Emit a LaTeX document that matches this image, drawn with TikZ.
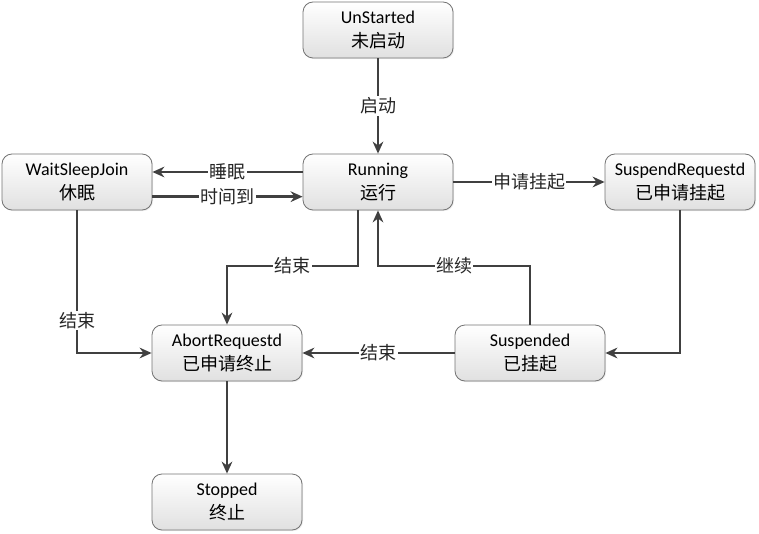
\documentclass[tikz,border=0pt]{standalone}
\usepackage{fontspec}
\setmainfont{Carlito}
\newfontfamily\cjk{Noto Sans CJK SC}
\usetikzlibrary{arrows.meta,shadows}

\tikzset{
  state/.style={draw=black!55, line width=0.6pt, rounded corners=7.5pt,
    top color=white, bottom color=black!12,
    drop shadow={shadow xshift=0.8pt, shadow yshift=-0.8pt, fill=black!15},
    minimum width=112.5pt, minimum height=42pt, align=center,
    font=\fontsize{13.5}{17.5}\selectfont, inner sep=0pt},
  arr/.style={draw=black!75, line width=2.2pt, -{Stealth[length=9pt,width=8pt]}},
  lbl/.style={fill=white, inner sep=1pt, text=black!85,
    font=\fontsize{13.5}{16}\selectfont\cjk},
}

\begin{document}
\begin{tikzpicture}[x=0.75pt,y=-0.75pt]
  \useasboundingbox (0,0) rectangle (759,534);
  % states
  \node[state] (unstarted) at (378,30)  {UnStarted\\{\cjk 未启动}};
  \node[state] (running)   at (378,182) {Running\\{\cjk 运行}};
  \node[state] (waitsleep) at (77,182)  {WaitSleepJoin\\{\cjk 休眠}};
  \node[state] (susreq)    at (680,182) {SuspendRequestd\\{\cjk 已申请挂起}};
  \node[state] (abortreq)  at (227,353) {AbortRequestd\\{\cjk 已申请终止}};
  \node[state] (suspended) at (530,353) {Suspended\\{\cjk 已挂起}};
  \node[state] (stopped)   at (227,502) {Stopped\\{\cjk 终止}};
  \coordinate (mid) at (0,266);

  % transitions
  \draw[arr] (unstarted) -- node[lbl] {启动} (running);
  \draw[arr] ([yshift=7.5pt]running.west) -- node[lbl] {睡眠} ([yshift=7.5pt]waitsleep.east);
  \draw[arr] ([yshift=-11pt]waitsleep.east) -- node[lbl] {时间到} ([yshift=-11pt]running.west);
  \draw[arr] (running) -- node[lbl] {申请挂起} (susreq);
  \draw[arr] (susreq.south) |- (suspended.east);
  \draw[arr] (suspended.north) -- (suspended.north |- mid) -| node[lbl,pos=0.25] {继续} (running.south);
  \draw[arr] ([xshift=-15pt]running.south) -- ([xshift=-15pt]running.south |- mid)
    -| node[lbl,pos=0.25] {结束} (abortreq.north);
  \draw[arr] (waitsleep.south) |- node[lbl,pos=0.385] {结束} (abortreq.west);
  \draw[arr] (suspended) -- node[lbl] {结束} (abortreq);
  \draw[arr] (abortreq) -- (stopped);
\end{tikzpicture}
\end{document}
